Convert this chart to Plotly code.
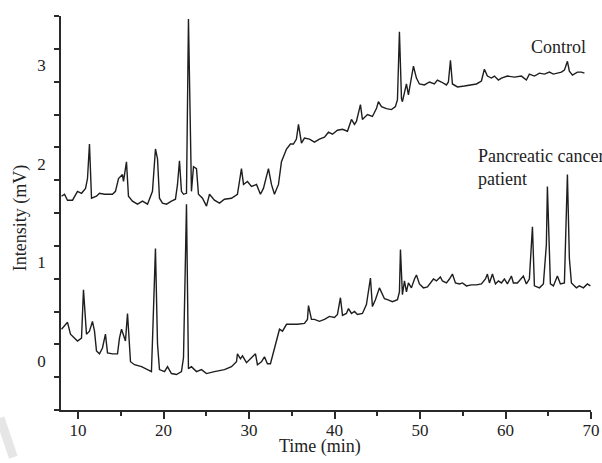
import plotly.graph_objects as go

# ---- data (time in min, intensity in mV) ----
control_time = [8.06, 8.41, 8.76, 9.35, 9.93, 10.40, 10.87, 11.10, 11.33, 11.57, 12.15, 12.50, 13.09, 14.02,
                14.37, 14.73, 15.19, 15.31, 15.66, 15.89, 16.36, 16.95, 17.53, 18.12, 18.70, 19.05, 19.29,
                19.52, 19.87, 20.34, 20.92, 21.39, 21.63, 21.86, 22.09, 22.33, 22.68, 22.91, 23.26, 23.50,
                23.85, 24.08, 24.55, 25.02, 25.37, 25.95, 26.54, 27.12, 27.94, 28.64, 29.11, 29.35, 29.81,
                30.28, 30.87, 31.33, 31.68, 32.27, 32.62, 32.97, 33.44, 33.79, 34.38, 34.84, 35.19, 35.54,
                35.78, 36.13, 36.48, 37.07, 37.65, 38.23, 38.82, 39.29, 39.75, 40.34, 40.93, 41.51, 41.98,
                42.33, 42.56, 43.03, 43.26, 43.85, 44.43, 44.90, 45.13, 45.49, 46.07, 46.66, 47.12, 47.36,
                47.59, 47.83, 47.94, 48.41, 48.64, 48.99, 49.23, 49.58, 49.93, 50.51, 51.10, 51.68, 52.03,
                52.50, 53.09, 53.32, 53.56, 53.79, 54.38, 55.19, 56.01, 56.60, 57.18, 57.53, 57.88, 58.35,
                58.70, 59.17, 59.52, 60.22, 61.04, 61.86, 62.44, 62.79, 63.38, 63.97, 64.55, 65.13, 65.60,
                66.07, 66.54, 66.89, 67.24, 67.47, 67.83, 68.41, 68.88, 69.23]
control_intensity = [1.67, 1.69, 1.63, 1.63, 1.72, 1.70, 1.75, 1.85, 2.20, 1.65, 1.67, 1.70, 1.69, 1.69,
                     1.72, 1.85, 1.89, 1.82, 2.02, 1.67, 1.62, 1.59, 1.62, 1.59, 1.72, 2.15, 2.05,
                     1.65, 1.60, 1.59, 1.62, 1.64, 1.79, 2.03, 1.72, 1.69, 1.70, 3.47, 1.72, 1.97,
                     1.95, 1.69, 1.65, 1.57, 1.69, 1.63, 1.60, 1.64, 1.65, 1.69, 1.95, 1.79, 1.82,
                     1.77, 1.79, 1.69, 1.75, 1.95, 1.79, 1.69, 1.79, 2.02, 2.15, 2.20, 2.20, 2.25,
                     2.40, 2.21, 2.26, 2.25, 2.22, 2.25, 2.27, 2.32, 2.30, 2.34, 2.35, 2.33, 2.45,
                     2.40, 2.43, 2.60, 2.45, 2.50, 2.48, 2.56, 2.63, 2.58, 2.56, 2.55, 2.58, 2.65,
                     3.34, 2.66, 2.63, 2.81, 2.70, 2.87, 2.99, 2.87, 2.81, 2.80, 2.83, 2.81, 2.85,
                     2.83, 2.80, 2.83, 3.05, 2.81, 2.78, 2.79, 2.80, 2.81, 2.84, 2.96, 2.89, 2.87,
                     2.89, 2.85, 2.87, 2.89, 2.88, 2.89, 2.85, 2.91, 2.89, 2.92, 2.91, 2.93, 2.91,
                     2.92, 2.93, 2.95, 3.04, 2.94, 2.90, 2.93, 2.93, 2.92]

patient_time = [8.06, 8.41, 8.76, 9.11, 9.58, 9.93, 10.40, 10.63, 10.98, 11.33, 11.68, 11.92, 12.15, 12.50,
                12.85, 13.20, 13.44, 14.02, 14.61, 14.84, 15.08, 15.31, 15.54, 15.78, 16.13, 16.60, 17.42,
                18.12, 18.58, 18.70, 19.05, 19.29, 19.52, 20.11, 20.46, 20.92, 21.51, 22.09, 22.33, 22.68,
                22.91, 23.26, 23.85, 24.43, 25.02, 25.95, 27.12, 27.94, 28.53, 28.64, 28.99, 29.23, 29.70,
                30.28, 30.75, 30.98, 31.45, 31.80, 32.15, 32.50, 32.85, 33.32, 33.56, 33.91, 34.38, 34.96,
                35.66, 36.48, 36.83, 36.95, 37.30, 37.65, 38.23, 38.82, 39.40, 39.99, 40.34, 40.69, 40.93,
                41.39, 41.63, 41.98, 42.33, 42.68, 43.26, 43.73, 44.20, 44.43, 44.78, 45.25, 45.60, 45.84,
                46.19, 46.77, 47.36, 47.59, 47.71, 47.94, 48.18, 48.41, 48.64, 48.99, 49.35, 49.58, 49.93,
                50.40, 50.87, 51.33, 51.57, 51.92, 52.38, 52.62, 53.09, 53.44, 53.79, 54.14, 54.61, 54.96,
                55.43, 56.01, 56.60, 57.18, 57.65, 57.88, 58.12, 58.47, 58.82, 59.17, 59.52, 59.87, 60.22,
                60.69, 60.92, 61.39, 61.86, 62.09, 62.44, 62.79, 63.15, 63.38, 63.97, 64.43, 64.78, 64.90,
                65.25, 65.60, 66.07, 66.42, 66.89, 67.24, 67.47, 67.71, 68.29, 68.64, 69.11, 69.58, 69.93]
patient_intensity = [0.32, 0.35, 0.39, 0.27, 0.23, 0.20, 0.23, 0.72, 0.27, 0.30, 0.40, 0.30, 0.10, 0.07,
                     0.13, 0.27, 0.08, 0.07, 0.07, 0.23, 0.32, 0.26, 0.20, 0.48, -0.01, -0.04, -0.06,
                     -0.09, -0.11, 0.20, 1.14, 0.17, -0.09, -0.11, -0.06, -0.13, -0.14, -0.11, 0.03, 1.59,
                     -0.08, -0.06, -0.11, -0.09, -0.13, -0.11, -0.09, -0.06, -0.01, 0.07, 0.02, 0.05, -0.02,
                     0.03, 0.07, -0.04, -0.01, 0.04, -0.03, -0.03, 0.08, 0.23, 0.32, 0.30, 0.37, 0.37,
                     0.37, 0.38, 0.42, 0.56, 0.42, 0.42, 0.40, 0.42, 0.45, 0.44, 0.47, 0.64, 0.46,
                     0.48, 0.53, 0.48, 0.50, 0.47, 0.48, 0.57, 0.84, 0.55, 0.62, 0.74, 0.67, 0.63,
                     0.62, 0.60, 0.62, 0.70, 1.13, 0.67, 0.81, 0.70, 0.79, 0.74, 0.83, 0.87, 0.78,
                     0.74, 0.75, 0.81, 0.83, 0.81, 0.85, 0.81, 0.79, 0.83, 0.88, 0.79, 0.78, 0.79,
                     0.76, 0.77, 0.77, 0.78, 0.83, 0.88, 0.79, 0.88, 0.78, 0.81, 0.79, 0.83, 0.78,
                     0.86, 0.79, 0.79, 0.83, 0.86, 0.78, 0.83, 1.36, 0.76, 0.74, 0.78, 1.18, 1.77,
                     0.78, 0.76, 0.86, 0.78, 0.79, 1.89, 1.04, 0.79, 0.74, 0.76, 0.74, 0.78, 0.76]

x_tick_vals = [10, 20, 30, 40, 50, 60, 70]
x_tick_labels = ["10", "20", "30", "40", "50", "60", "70"]
x_minor_vals = [15, 25, 35, 45, 55, 65]
y_label_vals = [0, 1, 2, 3]
y_label_text = ["0", "1", "2", "3"]
y_tick_marks = [-0.5 + k / 3 for k in range(13)]

FONT = "Liberation Serif, Times New Roman, serif"
LINE = "#1e1e1e"
AX = "#2a2a2a"

fig = go.Figure()
fig.add_trace(go.Scatter(x=control_time, y=control_intensity, mode="lines",
                         line=dict(color=LINE, width=1.4), name="Control", hoverinfo="skip"))
fig.add_trace(go.Scatter(x=patient_time, y=patient_intensity, mode="lines",
                         line=dict(color=LINE, width=1.4), name="Pancreatic cancer patient",
                         hoverinfo="skip"))

fig.update_layout(
    width=602, height=463,
    margin=dict(l=61, r=11, t=16, b=53, pad=0),
    paper_bgcolor="white", plot_bgcolor="white",
    showlegend=False,
    font=dict(family=FONT, size=17, color="#222"),
    xaxis=dict(range=[8, 70], tickmode="array", tickvals=x_tick_vals, ticktext=x_tick_labels,
               automargin=False,
               ticks="outside", ticklen=7, tickwidth=1.5, tickcolor=AX, ticklabelstandoff=-3,
               showline=True, linewidth=1.8, linecolor=AX, showgrid=False, zeroline=False,
               tickfont=dict(family=FONT, size=17, color="#222"),
               minor=dict(tickmode="array", tickvals=x_minor_vals, ticks="outside", ticklen=4,
                          tickwidth=1.5, tickcolor=AX, showgrid=False)),
    yaxis=dict(range=[-0.5, 3.5], tickmode="array", tickvals=y_label_vals, ticktext=y_label_text,
               automargin=False,
               ticks="outside", ticklen=10, tickcolor="rgba(0,0,0,0)",
               showline=True, linewidth=1.8, linecolor=AX, showgrid=False, zeroline=False,
               tickfont=dict(family=FONT, size=17, color="#222"),
               minor=dict(tickmode="array", tickvals=y_tick_marks, ticks="outside", ticklen=5,
                          tickwidth=1.5, tickcolor=AX, showgrid=False)),
)

fig.add_annotation(text="Time (min)", xref="paper", yref="paper", x=0.488, y=-0.062,
                   xanchor="center", yanchor="top", showarrow=False,
                   font=dict(family=FONT, size=18, color="#222"))
fig.add_annotation(text="Intensity (mV)", xref="paper", yref="paper", x=-0.077, y=0.487,
                   xanchor="center", yanchor="middle", textangle=-90, showarrow=False,
                   font=dict(family=FONT, size=18, color="#222"))
fig.add_annotation(text="Control", x=66.25, y=3.19, xanchor="center", yanchor="middle",
                   showarrow=False, font=dict(family=FONT, size=18, color="#222"))
fig.add_annotation(text="Pancreatic cancer<br>patient", x=56.5, y=1.96, xanchor="left",
                   yanchor="middle", align="left", showarrow=False,
                   font=dict(family=FONT, size=18, color="#222"))

# faint watermark stroke in the lower-left corner of the reference
fig.add_shape(type="line", xref="paper", yref="paper", x0=-0.115, y0=-0.02, x1=-0.09, y1=-0.12,
              line=dict(color="#e6e6e6", width=9))

fig.write_html("out.html", config={"displayModeBar": False},
               post_script="document.body.style.margin='0';")
